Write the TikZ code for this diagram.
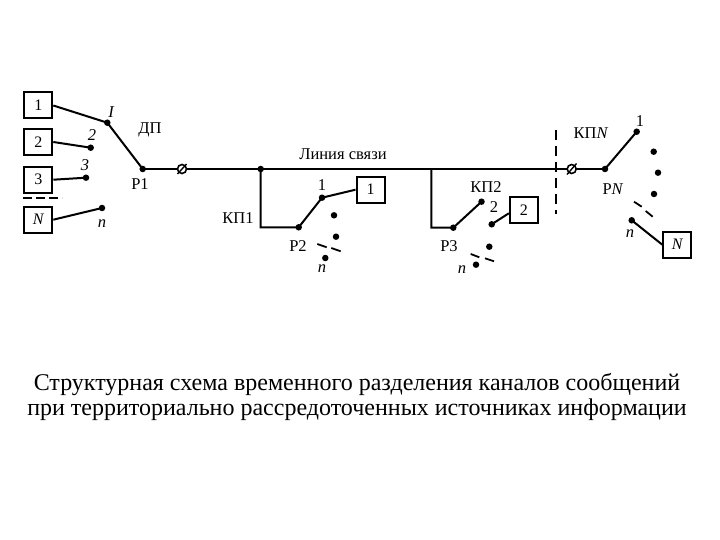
\documentclass[tikz,border=0pt]{standalone}
\usepackage{fontspec}
\setmainfont{Liberation Serif}
\tikzset{
 box/.style={draw,line width=2pt,minimum width=28pt,minimum height=26pt,inner sep=0pt,font=\fontsize{16}{16}\selectfont},
 pt/.style={circle,fill=black,inner sep=0pt,minimum size=6.5pt},
 wire/.style={line width=2pt},
 lbl/.style={inner sep=0pt,font=\fontsize{16.5}{16.5}\selectfont},
 ilbl/.style={lbl,font=\fontsize{16.5}{16.5}\selectfont\itshape},
 dsh/.style={line width=1.8pt},
 brk/.style={circle,draw,line width=1.6pt,inner sep=0pt,minimum size=9pt,fill=white},
 capt/.style={inner sep=0pt,font=\fontsize{24}{24}\selectfont}
}
\begin{document}
\begin{tikzpicture}[x=1pt,y=-1pt]
\useasboundingbox (0,0) rectangle (720,540);
\fill[white] (0,0) rectangle (720,540);
% sources
\node[box] (b1) at (38.3,105.5) {1};
\node[box] (b2) at (38.3,142) {2};
\node[box] (b3) at (38.3,179.7) {3};
\node[box] (bN) at (38.3,219.7) {\itshape N};
\node[pt] (d1) at (107.3,122.7) {};
\node[pt] (d2) at (90.7,147.7) {};
\node[pt] (d3) at (86,177.7) {};
\node[pt] (dn) at (102,208) {};
\node[pt] (p1) at (142.7,169) {};
\draw[wire] (b1.east) -- (d1.center) -- (p1.center);
\draw[wire] (b2.east) -- (d2.center);
\draw[wire] (b3.east) -- (d3.center);
\draw[wire] (bN.east) -- (dn.center);
\coordinate (da) at (23,198.3); \coordinate (db) at (62,198.3);
\draw[dsh,dash pattern=on 9pt off 4pt] (da) -- (db);
\node[ilbl] at (111,112) {I};
\node[ilbl] at (92,135) {2};
\node[ilbl] at (85,165) {3};
\node[ilbl] at (102,224) {n};
\node[lbl] at (150,130) {ДП};
\node[lbl] at (140,184) {Р1};
% line
\node[pt] (j1) at (260.7,169) {};
\coordinate (j2) at (431.3,169);
\node[pt] (pN) at (605,169) {};
\draw[wire] (p1.center) -- (j1.center) -- (j2) -- (pN.center);
\node[brk] (s1) at (182,169) {};
\node[brk] (s2) at (571.7,169) {};
\coordinate (sa) at (177.5,174); \coordinate (sb) at (186.5,164);
\draw[line width=1.4pt] (sa) -- (sb);
\coordinate (sc) at (567,174.5); \coordinate (sd) at (576.5,163.5);
\draw[line width=1.4pt] (sc) -- (sd);
\node[lbl] at (343,154) {Линия связи};
% KP1
\node[pt] (p2) at (298.7,227.3) {};
\node[pt] (k1) at (322,197.7) {};
\node[box] (r1) at (370.5,189.7) {1};
\coordinate (c1) at (260.7,227.3);
\draw[wire] (j1.center) -- (c1) -- (p2.center) -- (k1.center) -- (r1.west);
\node[pt] (k1b) at (334,215.3) {};
\node[pt] (k1c) at (336,236.7) {};
\node[pt] (k1n) at (325.3,258) {};
\coordinate (e1) at (317.3,244); \coordinate (e2) at (326.7,247.3);
\coordinate (e3) at (331.3,248); \coordinate (e4) at (340.7,251.3);
\draw[dsh] (e1) -- (e2); \draw[dsh] (e3) -- (e4);
\node[lbl] at (238,218) {КП1};
\node[lbl] at (322,185) {1};
\node[lbl] at (298,246) {Р2};
\node[ilbl] at (322,269) {n};
% KP2
\node[pt] (p3) at (453.3,227.7) {};
\node[pt] (k2) at (481.5,201.7) {};
\node[pt] (k2b) at (491.7,224.3) {};
\node[box] (r2) at (523.8,210) {2};
\coordinate (c2) at (431.3,227.7);
\draw[wire] (j2) -- (c2) -- (p3.center) -- (k2.center);
\draw[wire] (k2b.center) -- (r2.west|-0,213.3);
\node[pt] (k2c) at (489.3,246.7) {};
\node[pt] (k2n) at (476,264.7) {};
\coordinate (f1) at (470.7,254); \coordinate (f2) at (479.3,257.3);
\coordinate (f3) at (485,258.3); \coordinate (f4) at (494,261.3);
\draw[dsh] (f1) -- (f2); \draw[dsh] (f3) -- (f4);
\node[lbl] at (486,187) {КП2};
\node[lbl] at (494,207) {2};
\node[lbl] at (449,246) {Р3};
\node[ilbl] at (462,270) {n};
% KPN
\coordinate (v1) at (556,130); \coordinate (v2) at (556,214);
\draw[line width=2pt,dash pattern=on 10pt off 6pt] (v1) -- (v2);
\node[pt] (q1) at (636.7,131.7) {};
\node[pt] (q2) at (653.7,151.7) {};
\node[pt] (q3) at (658,172.7) {};
\node[pt] (q4) at (654,194) {};
\node[pt] (qn) at (631.7,220.3) {};
\node[box] (rN) at (677.3,244.7) {\itshape N};
\draw[wire] (pN.center) -- (q1.center);
\draw[wire] (qn.center) -- (rN.west);
\coordinate (g1) at (634,201.7); \coordinate (g2) at (641.7,206.7);
\coordinate (g3) at (645.7,211); \coordinate (g4) at (652.7,216.7);
\draw[dsh] (g1) -- (g2); \draw[dsh] (g3) -- (g4);
\node[lbl] at (591,133) {КП\textit{N}};
\node[lbl] at (613,189) {Р\textit{N}};
\node[lbl] at (640,121) {1};
\node[ilbl] at (630,234) {n};
% caption
\node[capt] at (357,384) {Структурная схема временного разделения каналов сообщений};
\node[capt] at (357,410) {при территориально рассредоточенных источниках информации};
\end{tikzpicture}
\end{document}
